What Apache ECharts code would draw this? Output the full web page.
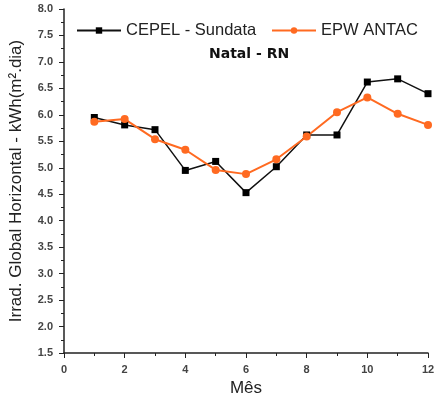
<!DOCTYPE html>
<html>
<head>
<meta charset="utf-8">
<script src="https://cdn.jsdelivr.net/npm/echarts@6/dist/echarts.min.js"></script>
<style>
  html, body { margin: 0; padding: 0; background: #fff; }
  #chart { width: 438px; height: 405px; }
</style>
</head>
<body>
<div id="chart"></div>
<script>
// valores (mês 1..12)
const months = [1, 2, 3, 4, 5, 6, 7, 8, 9, 10, 11, 12]
const cepel = [5.95, 5.81, 5.72, 4.95, 5.12, 4.53, 5.02, 5.62, 5.62, 6.62, 6.68, 6.40]
const epw = [5.87, 5.92, 5.54, 5.34, 4.96, 4.88, 5.16, 5.59, 6.05, 6.33, 6.02, 5.81]
const seriesNames = ['CEPEL - Sundata', 'EPW ANTAC']

const pairs = (ys) => months.map((m, i) => [m, ys[i]])

const chart = echarts.init(document.getElementById('chart'))

const font = 'Liberation Sans, Arial, sans-serif'
const axisText = { color: '#444', fontSize: 11, fontWeight: 'bold', fontFamily: font }

const legendBase = {
  top: 22,
  padding: 0,
  itemGap: 0,
  itemWidth: 44,
  itemHeight: 8,
  textStyle: { fontSize: 16.5, color: '#222', fontFamily: font }
}

chart.setOption({
  animation: false,
  textStyle: { fontFamily: font },
  title: {
    text: 'Natal - RN',
    left: 204,
    top: 42,
    textStyle: { fontSize: 14, fontWeight: 'bold', color: '#111', fontFamily: 'DejaVu Sans' }
  },
  legend: [
    { ...legendBase, data: [seriesNames[0]], left: 76 },
    { ...legendBase, data: [seriesNames[1]], left: 271 }
  ],
  grid: { left: 64, right: 10, top: 9, bottom: 52 },
  xAxis: {
    type: 'value',
    min: 0,
    max: 12,
    interval: 2,
    name: 'Mês',
    nameLocation: 'middle',
    nameGap: 26,
    nameTextStyle: { fontSize: 17, color: '#222' },
    axisLine: { lineStyle: { color: '#222', width: 1.5 } },
    axisTick: { inside: false, length: 5, lineStyle: { color: '#222' } },
    minorTick: { show: true, splitNumber: 2, length: 3, lineStyle: { color: '#222' } },
    axisLabel: { ...axisText, margin: 11 },
    splitLine: { show: false }
  },
  yAxis: {
    type: 'value',
    min: 1.5,
    max: 8.0,
    interval: 0.5,
    name: 'Irrad. Global Horizontal - kWh(m².dia)',
    nameLocation: 'middle',
    nameGap: 39,
    nameTextStyle: { fontSize: 17, color: '#222' },
    axisLine: { show: true, lineStyle: { color: '#222', width: 1.5 } },
    axisTick: { inside: false, length: 5, lineStyle: { color: '#222' } },
    minorTick: { show: true, splitNumber: 2, length: 3, lineStyle: { color: '#222' } },
    axisLabel: { ...axisText, margin: 11, formatter: (v) => v.toFixed(1) },
    splitLine: { show: false }
  },
  series: [
    {
      name: seriesNames[0],
      type: 'line',
      data: pairs(cepel),
      symbol: 'rect',
      symbolSize: 7,
      color: '#000',
      lineStyle: { color: '#111', width: 1.5 },
      itemStyle: { color: '#000' }
    },
    {
      name: seriesNames[1],
      type: 'line',
      data: pairs(epw),
      symbol: 'circle',
      symbolSize: 8,
      color: '#ff6a21',
      lineStyle: { color: '#ff6a21', width: 2 },
      itemStyle: { color: '#ff6a21' }
    }
  ]
})
</script>
</body>
</html>
